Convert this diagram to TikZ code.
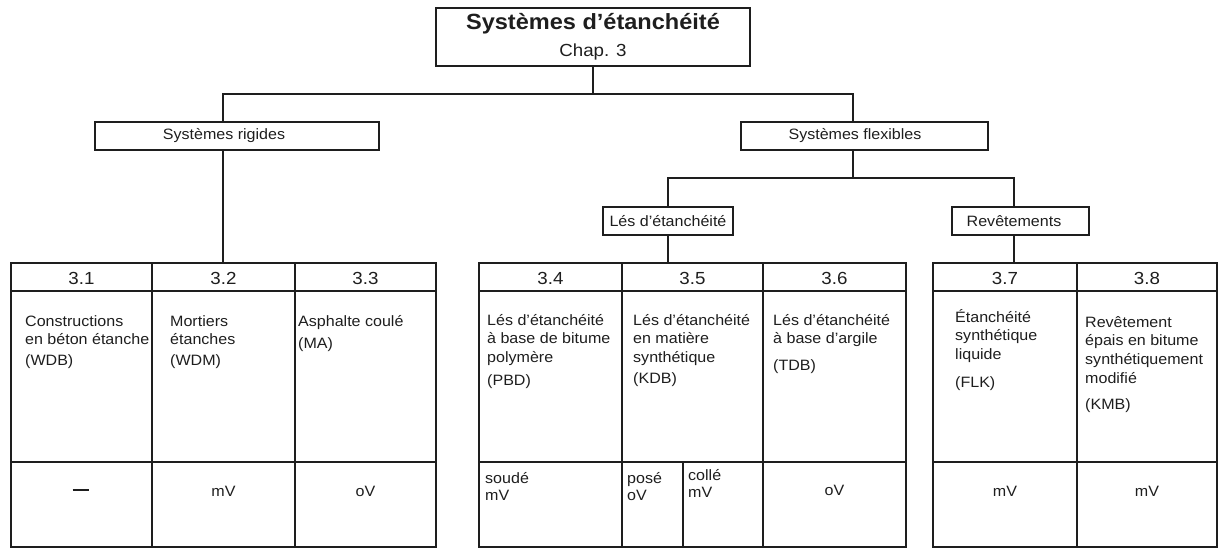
\documentclass[tikz,border=0pt]{standalone}
\usepackage{fontspec}
\setmainfont[FakeStretch=1.07]{Liberation Sans}
\definecolor{lc}{RGB}{30,30,30}
\newcommand\fs[2]{\fontsize{#1}{#2}\selectfont}
\begin{document}
\begin{tikzpicture}[x=1pt,y=-1pt,
  ln/.style={line width=1.7pt, draw=lc},
  box/.style={draw=lc, line width=1.7pt, rectangle, inner sep=0pt, text=lc, font=\fs{15}{18}},
  hd/.style={anchor=base, inner sep=0pt, text=lc, font=\fs{17.5}{20}},
  ct/.style={anchor=north west, align=left, inner sep=0pt, text=lc, font=\fs{15}{18.7}},
  cs/.style={anchor=north west, align=left, inner sep=0pt, text=lc, font=\fs{15}{17.5}},
  bt/.style={anchor=base, inner sep=0pt, text=lc, font=\fs{15}{18}}]
\useasboundingbox (0,0) rectangle (1219,548);

% boxes
\node[box, minimum width=314pt, minimum height=58pt, align=center, font=\fs{17.5}{27}] (top) at (593,37)
  {{\fs{22}{27}\bfseries Systèmes d’étanchéité}\\Chap. 3};
\node[box, minimum width=284pt, minimum height=28pt] (rig) at (237,136) {\hspace*{-26pt}Systèmes rigides};
\node[box, minimum width=247pt, minimum height=28pt] (flex) at (864.5,136) {\hspace*{-19pt}Systèmes flexibles};
\node[box, minimum width=130pt, minimum height=28pt] (les) at (668,221) {Lés d’étanchéité};
\node[box, minimum width=137pt, minimum height=28pt] (rev) at (1020.5,221) {\hspace*{-13pt}Revêtements};

% tables
\node[box, minimum width=425pt, minimum height=284pt] (t1) at (223.5,405) {};
\node[box, minimum width=427pt, minimum height=284pt] (t2) at (692.5,405) {};
\node[box, minimum width=284pt, minimum height=284pt] (t3) at (1075,405) {};

\foreach \t in {t1,t2,t3}{
  \draw[ln] (\t.west |- 0,291) -- (\t.east |- 0,291);
  \draw[ln] (\t.west |- 0,462) -- (\t.east |- 0,462);
}
\foreach \x in {152,295}{\draw[ln] (\x,0 |- t1.north) -- (\x,0 |- t1.south);}
\foreach \x in {622,763}{\draw[ln] (\x,0 |- t2.north) -- (\x,0 |- t2.south);}
\draw[ln] (1077,0 |- t3.north) -- (1077,0 |- t3.south);
\draw[ln] (683,462) -- (683,0 |- t2.south);

% connectors
\coordinate (bL) at (223,94);
\coordinate (bR) at (853,94);
\coordinate (fL) at (668,178);
\coordinate (fR) at (1014,178);
\draw[ln] (top.south) -- (top.south |- bL);
\draw[ln] (rig.north -| bL) -- (bL) -- (bR) -- (flex.north -| bR);
\draw[ln] (rig.south -| bL) -- (t1.north -| bL);
\draw[ln] (flex.south -| bR) -- (fL -| bR);
\draw[ln] (les.north) -- (fL) -- (fR) -- (rev.north -| fR);
\draw[ln] (les.south) -- (t2.north -| les.south);
\draw[ln] (rev.south -| fR) -- (t3.north -| fR);

% headers
\node[hd] (h31) at (81.5,284) {3.1};
\node[hd] (h32) at (223.5,284) {3.2};
\node[hd] (h33) at (365.5,284) {3.3};
\node[hd] (h34) at (550.5,284) {3.4};
\node[hd] (h35) at (692.5,284) {3.5};
\node[hd] (h36) at (834.5,284) {3.6};
\node[hd] (h37) at (1005,284) {3.7};
\node[hd] (h38) at (1147,284) {3.8};

% body
\node[ct] (c31) at (25,311) {\rule{0pt}{15pt}Constructions\\en béton étanche\\[2pt](WDB)};
\node[ct] (c32) at (170,311) {\rule{0pt}{15pt}Mortiers\\étanches\\[2pt](WDM)};
\node[ct] (c33) at (298,311) {\rule{0pt}{15pt}Asphalte coulé\\[4pt](MA)};
\node[ct] (c34) at (487,310) {\rule{0pt}{15pt}Lés d’étanchéité\\à base de bitume\\polymère\\[4pt](PBD)};
\node[ct] (c35) at (633,310) {\rule{0pt}{15pt}Lés d’étanchéité\\en matière\\synthétique\\[2pt](KDB)};
\node[ct] (c36) at (773,310) {\rule{0pt}{15pt}Lés d’étanchéité\\à base d’argile\\[8pt](TDB)};
\node[ct] (c37) at (955,307) {\rule{0pt}{15pt}Étanchéité\\synthétique\\liquide\\[9pt](FLK)};
\node[ct] (c38) at (1085,312) {\rule{0pt}{15pt}Revêtement\\épais en bitume\\synthétiquement\\modifié\\[7pt](KMB)};

% bottom row
\node[bt] (b31) at (80.5,495) {\rule[4pt]{16pt}{2pt}};
\node[bt] (b32) at (223.5,496) {mV};
\node[bt] (b33) at (365.5,496) {oV};
\node[cs] (b34) at (485,468) {\rule{0pt}{15pt}soudé\\mV};
\node[cs] (b35a) at (627,468) {\rule{0pt}{15pt}posé\\oV};
\node[cs] (b35b) at (688,465) {\rule{0pt}{15pt}collé\\mV};
\node[bt] (b36) at (834.5,495) {oV};
\node[bt] (b37) at (1005,496) {mV};
\node[bt] (b38) at (1147,496) {mV};
\end{tikzpicture}
\end{document}
